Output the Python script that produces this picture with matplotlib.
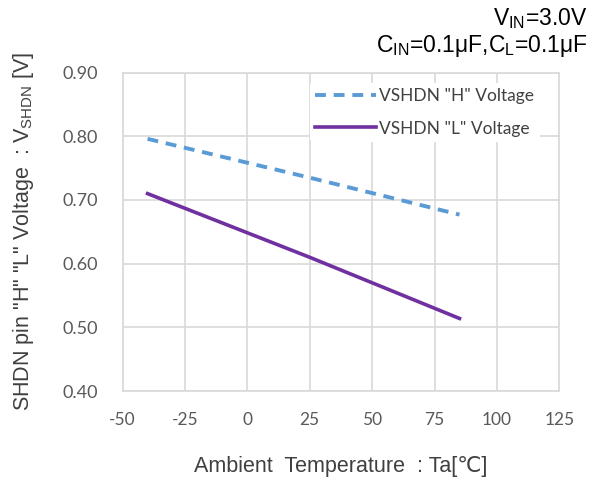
import matplotlib
matplotlib.use('Agg')
import matplotlib.pyplot as plt

# Données
temperature = [-40, 25, 85]
vshdn_h = [0.796, 0.735, 0.677]
vshdn_l = [0.710, 0.610, 0.514]

x_ticks = [-50, -25, 0, 25, 50, 75, 100, 125]
y_ticks = [0.40, 0.50, 0.60, 0.70, 0.80, 0.90]

plt.rcParams['axes.unicode_minus'] = False

fig = plt.figure(figsize=(6.04, 4.84), dpi=100)
ax = fig.add_axes([0.203, 0.192, 0.723, 0.658])

ax.plot(temperature, vshdn_h, color='#5B9BD5', lw=2.8, ls=(0, (2.8, 2.0)),
        label='VSHDN "H" Voltage')
ax.plot(temperature, vshdn_l, color='#7030A0', lw=2.6,
        label='VSHDN "L" Voltage')

ax.set_xlim(-50, 125)
ax.set_ylim(0.40, 0.90)
ax.set_xticks(x_ticks)
ax.set_xticklabels([str(v) for v in x_ticks])
ax.set_yticks(y_ticks)
ax.set_yticklabels([f"{v:.2f}" for v in y_ticks])
ax.grid(True, color='#D9D9D9', lw=1.2)
ax.set_axisbelow(True)
ax.tick_params(axis='x', length=0, labelsize=12.5, labelcolor='#595959', pad=15)
ax.tick_params(axis='y', length=0, labelsize=13, labelcolor='#595959', pad=18)
for lbl in ax.get_xticklabels() + ax.get_yticklabels():
    lbl.set_family('Lato')
for s in ax.spines.values():
    s.set_color('#D9D9D9')
    s.set_linewidth(1.2)

ax.set_xlabel('Ambient  Temperature  : Ta[℃]', fontsize=15.5, color='#404040',
              family=['Liberation Sans', 'DejaVu Sans'], labelpad=20)
ax.set_ylabel('SHDN pin "H" "L" Voltage  : V$_{\\mathregular{SHDN}}$ [V]',
              fontsize=15.5, color='#404040', family='Liberation Sans', labelpad=19)

leg = ax.legend(loc='upper right', bbox_to_anchor=(0.975, 0.995), frameon=True,
                prop={'family': 'Lato', 'size': 12.5}, handlelength=3.5,
                handletextpad=0.2, labelspacing=0.95, borderpad=0.3)
leg.get_frame().set_edgecolor('none')
leg.get_frame().set_facecolor('white')
leg.get_frame().set_alpha(1)
for t in leg.get_texts():
    t.set_color('#404040')

fig.text(0.973, 0.962, 'V$_{\\mathregular{IN}}$=3.0V', ha='right', va='center',
         fontsize=16.5, family='Liberation Sans', color='black')
fig.text(0.973, 0.905, 'C$_{\\mathregular{IN}}$=0.1μF,C$_{\\mathregular{L}}$=0.1μF',
         ha='right', va='center', fontsize=16.5, family='Liberation Sans', color='black')

fig.savefig('out.png', dpi=100)
